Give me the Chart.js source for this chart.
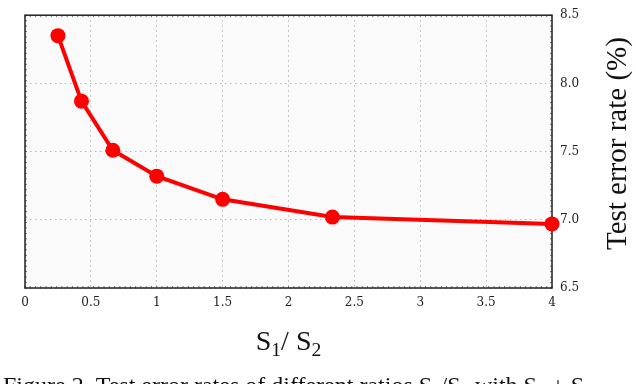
<!DOCTYPE html>
<html>
<head>
<meta charset="utf-8">
<script src="https://cdn.jsdelivr.net/npm/chart.js@4.4.0/dist/chart.umd.min.js"></script>
<style>
    html, body { margin: 0; padding: 0; background: #fff; }
    canvas { display: block; }
</style>
</head>
<body>
<canvas id="ratioChart" width="636" height="384"></canvas>
<script>
// S1/S2 ratios (S1 + S2 = 10): 2/8, 3/7, 4/6, 5/5, 6/4, 7/3, 8/2
const ratioNames = ['2/8', '3/7', '4/6', '5/5', '6/4', '7/3', '8/2'];
const ratios = [0.25, 0.4286, 0.6667, 1, 1.5, 2.3333, 4];
const errorRates = [8.35, 7.87, 7.51, 7.32, 7.15, 7.02, 6.97];
const xTicks = [0, 0.5, 1, 1.5, 2, 2.5, 3, 3.5, 4];
const yTicks = [6.5, 7.0, 7.5, 8.0, 8.5];

const serif = '"Liberation Serif", "Times New Roman", serif';

// draw a run of text pieces, some of them as subscripts
function drawPieces(ctx, pieces, x, y, size) {
    let cx = x;
    pieces.forEach(function (p) {
        const s = p.sub ? size * 0.7 : size;
        ctx.font = s + 'px ' + serif;
        ctx.fillText(p.t, cx, p.sub ? y + size * 0.2 : y);
        cx += ctx.measureText(p.t).width;
    });
    return cx - x;
}

function piecesWidth(ctx, pieces, size) {
    let w = 0;
    pieces.forEach(function (p) {
        ctx.font = (p.sub ? size * 0.7 : size) + 'px ' + serif;
        w += ctx.measureText(p.t).width;
    });
    return w;
}

const framePlugin = {
    id: 'frame',
    beforeDraw(chart) {
        const a = chart.chartArea;
        const ctx = chart.ctx;
        ctx.save();
        ctx.fillStyle = '#fafafa';
        ctx.fillRect(a.left, a.top, a.right - a.left, a.bottom - a.top);
        ctx.restore();
    },
    beforeDatasetsDraw(chart) {
        const a = chart.chartArea;
        const ctx = chart.ctx;
        const xs = chart.scales.x;
        const ys = chart.scales.y;
        ctx.save();
        // small inner ticks along the frame
        ctx.strokeStyle = '#555';
        ctx.lineWidth = 0.8;
        ctx.beginPath();
        for (let v = 0; v <= 4.0001; v += 0.04) {
            const px = xs.getPixelForValue(v);
            ctx.moveTo(px, a.bottom);
            ctx.lineTo(px, a.bottom - 2);
            ctx.moveTo(px, a.top);
            ctx.lineTo(px, a.top + 2);
        }
        for (let v = 6.5; v <= 8.5001; v += 0.04) {
            const py = ys.getPixelForValue(v);
            ctx.moveTo(a.left, py);
            ctx.lineTo(a.left + 2, py);
            ctx.moveTo(a.right, py);
            ctx.lineTo(a.right - 2, py);
        }
        ctx.stroke();
        ctx.strokeStyle = '#222';
        ctx.lineWidth = 1.5;
        ctx.strokeRect(a.left, a.top, a.right - a.left, a.bottom - a.top);
        ctx.restore();
    },
    afterDraw(chart) {
        const a = chart.chartArea;
        const ctx = chart.ctx;
        ctx.save();
        ctx.fillStyle = '#111';
        ctx.textBaseline = 'alphabetic';
        ctx.textAlign = 'left';

        // y axis title, reading bottom to top, right of the tick labels
        ctx.save();
        ctx.translate(626, (a.top + a.bottom) / 2 - 8);
        ctx.rotate(-Math.PI / 2);
        ctx.font = '29px ' + serif;
        ctx.textAlign = 'center';
        ctx.fillText('Test error rate (%)', 0, 0);
        ctx.restore();

        // x axis title S1/ S2
        const xTitle = [{t: 'S'}, {t: '1', sub: true}, {t: '/ S'}, {t: '2', sub: true}];
        const w = piecesWidth(ctx, xTitle, 28);
        drawPieces(ctx, xTitle, (a.left + a.right) / 2 - w / 2, 350, 28);

        // figure caption, cut off by the bottom edge
        const caption = [
            {t: 'Figure 2. Test error rates of different ratios S'}, {t: '1', sub: true},
            {t: '/S'}, {t: '2', sub: true}, {t: ' with S'}, {t: '1', sub: true},
            {t: ' + S'}, {t: '2', sub: true}
        ];
        drawPieces(ctx, caption, 3, 393, 24);
        ctx.restore();
    }
};

const ctx = document.getElementById('ratioChart');

new Chart(ctx, {
    type: 'line',
    data: {
        datasets: [{
            label: 'Test error rate',
            data: ratios.map(function (r, i) { return {x: r, y: errorRates[i], name: ratioNames[i]}; }),
            borderColor: '#ff0000',
            backgroundColor: '#ff0000',
            borderWidth: 4,
            pointRadius: 7.5,
            pointHoverRadius: 7.5,
            pointBorderWidth: 0,
            tension: 0,
            clip: false
        }]
    },
    options: {
        responsive: false,
        animation: false,
        layout: {
            padding: {left: 25, top: 6, right: 0, bottom: 0}
        },
        plugins: {
            legend: {display: false},
            tooltip: {enabled: false}
        },
        scales: {
            x: {
                type: 'linear',
                min: 0,
                max: 4,
                afterBuildTicks: function (scale) {
                    scale.ticks = xTicks.map(function (v) { return {value: v}; });
                },
                afterFit: function (scale) { scale.height = 96; },
                grid: {
                    color: '#b8b8b8',
                    lineWidth: 1,
                    drawTicks: false
                },
                border: {display: false, dash: [1.5, 3.5]},
                ticks: {
                    padding: 8,
                    color: '#222',
                    font: {family: '"DejaVu Serif", serif', size: 12},
                    maxRotation: 0,
                    callback: function (value) { return String(value); }
                }
            },
            y: {
                type: 'linear',
                position: 'right',
                min: 6.5,
                max: 8.5,
                afterBuildTicks: function (scale) {
                    scale.ticks = yTicks.map(function (v) { return {value: v}; });
                },
                afterFit: function (scale) { scale.width = 84; },
                grid: {
                    color: '#b8b8b8',
                    lineWidth: 1,
                    drawTicks: false
                },
                border: {display: false, dash: [1.5, 3.5]},
                ticks: {
                    padding: 8,
                    color: '#222',
                    font: {family: '"DejaVu Serif", serif', size: 12},
                    callback: function (value) { return Number(value).toFixed(1); }
                }
            }
        }
    },
    plugins: [framePlugin]
});
</script>
</body>
</html>
